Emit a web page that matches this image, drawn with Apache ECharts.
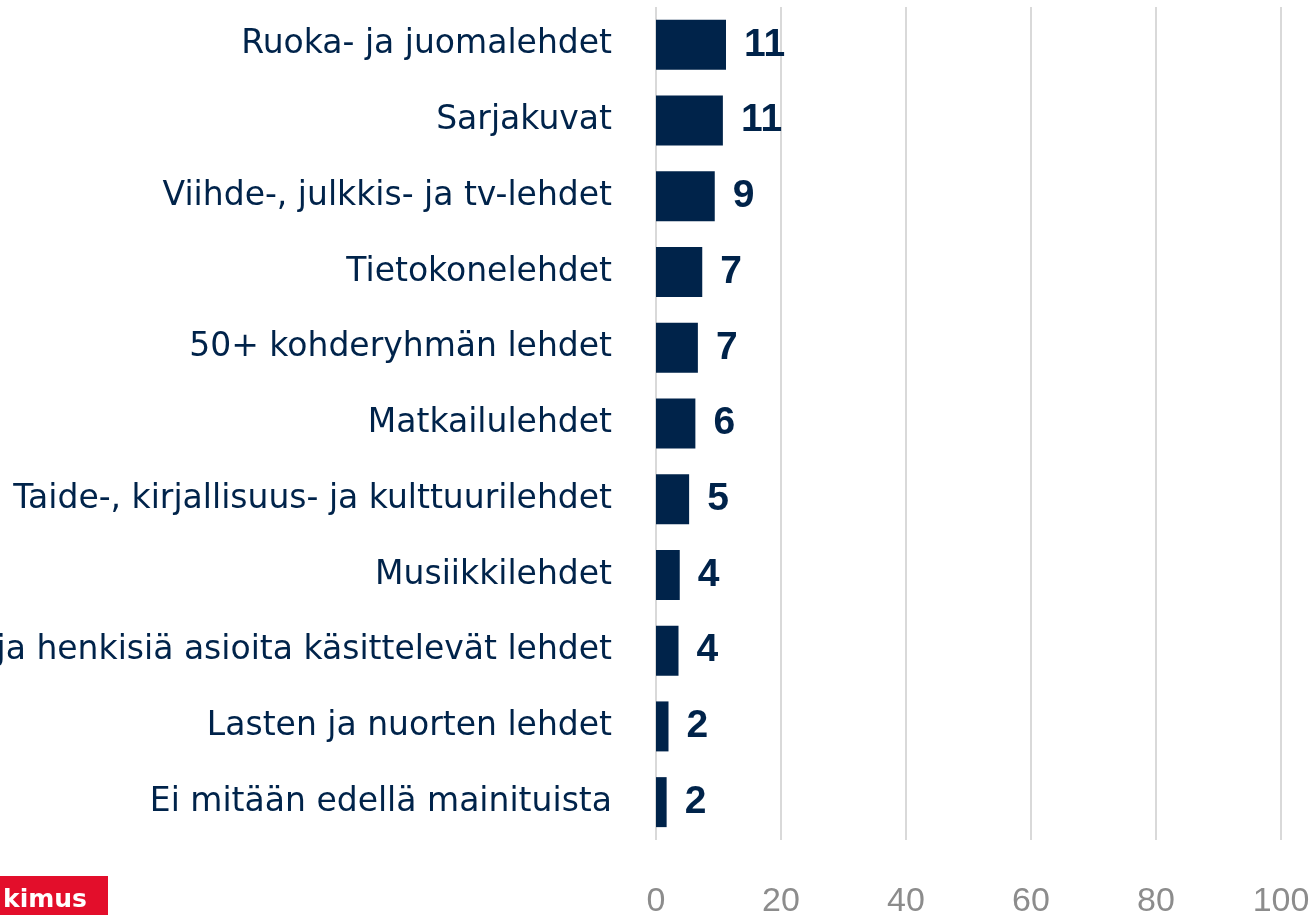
<!DOCTYPE html>
<html lang="fi">
<head>
  <meta charset="UTF-8" />
  <script src="https://cdn.jsdelivr.net/npm/echarts@6/dist/echarts.min.js"></script>
  <style>
    html, body { margin: 0; padding: 0; background: #fff; }
    #chart { width: 1316px; height: 915px; }
  </style>
</head>
<body>
  <div id="chart"></div>
  <script>
    // Lukijoiden osuus (%) lehtityypeittäin, ylhäältä alas
    const categories = [
      'Ruoka- ja juomalehdet',
      'Sarjakuvat',
      'Viihde-, julkkis- ja tv-lehdet',
      'Tietokonelehdet',
      '50+ kohderyhmän lehdet',
      'Matkailulehdet',
      'Taide-, kirjallisuus- ja kulttuurilehdet',
      'Musiikkilehdet',
      'Uskonnolliset ja henkisiä asioita käsittelevät lehdet',
      'Lasten ja nuorten lehdet',
      'Ei mitään edellä mainituista'
    ];
    const values = [11.2, 10.7, 9.4, 7.4, 6.7, 6.3, 5.3, 3.8, 3.6, 2.0, 1.7];
    const xTicks = [0, 20, 40, 60, 80, 100];

    const NAVY = '#00234a';
    const CAT_FONT = '"DejaVu Sans", sans-serif';
    const NUM_FONT = '"Liberation Sans", Arial, sans-serif';

    const chart = echarts.init(document.getElementById('chart'));
    chart.setOption({
      animation: false,
      grid: { left: 656, right: 35, top: 7, bottom: 75, containLabel: false, outerBoundsMode: 'none' },
      xAxis: {
        type: 'value',
        min: xTicks[0],
        max: xTicks[xTicks.length - 1],
        interval: xTicks[1] - xTicks[0],
        axisLine: { show: false },
        axisTick: { show: false },
        splitLine: { show: true, lineStyle: { color: '#d9d9d9', width: 2 } },
        axisLabel: { color: '#8c8c8c', fontSize: 34, fontFamily: NUM_FONT, margin: 45 }
      },
      yAxis: {
        type: 'category',
        inverse: true,
        data: categories,
        axisLine: { show: false },
        axisTick: { show: false },
        axisLabel: { color: NAVY, fontSize: 33, fontFamily: CAT_FONT, margin: 44, padding: [10, 0, 0, 0] }
      },
      series: [{
        type: 'bar',
        data: values,
        barCategoryGap: '34%',
        itemStyle: { color: NAVY },
        label: {
          show: true,
          position: 'right',
          distance: 18,
          color: NAVY,
          fontSize: 39,
          fontWeight: 'bold',
          fontFamily: NUM_FONT,
          padding: [8, 0, 0, 0],
          formatter: (p) => Math.round(p.value)
        }
      }],
      graphic: [
        { type: 'rect', left: 0, top: 876, shape: { width: 108, height: 39 }, style: { fill: '#e30e2b' } },
        { type: 'text', left: 3, top: 888, style: { text: 'kimus', fill: '#fff', font: 'bold 25px "DejaVu Sans", sans-serif' } }
      ]
    });
  </script>
</body>
</html>
